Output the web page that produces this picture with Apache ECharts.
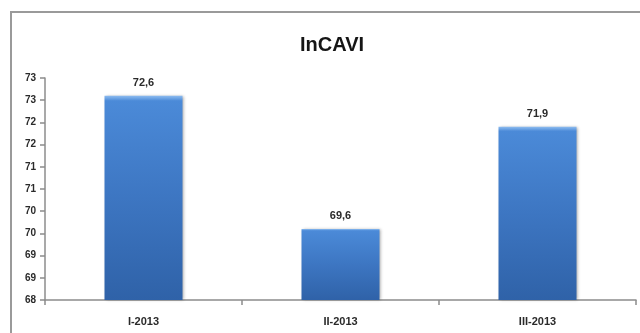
<!DOCTYPE html>
<html>
<head>
<meta charset="utf-8">
<script src="https://cdn.jsdelivr.net/npm/echarts@6/dist/echarts.min.js"></script>
<style>
  html, body { margin: 0; padding: 0; background: #fff; }
  #chart { width: 640px; height: 333px; }
</style>
</head>
<body>
<div id="chart"></div>
<script>
// Quarterly InCAVI index values
const categories = ['I-2013', 'II-2013', 'III-2013'];
const values = [72.6, 69.6, 71.9];
const titleText = 'InCAVI';
const yMin = 68;
const yMax = 73;
const yStep = 0.5;

const chart = echarts.init(document.getElementById('chart'), null, { renderer: 'canvas' });

const textColor = '#2a2a2a';
const axisColor = '#8c8c8c';
const fontFamily = '"Liberation Sans", Arial, sans-serif';

const barGradient = new echarts.graphic.LinearGradient(0, 0, 0, 1, [
  { offset: 0, color: '#8dbcf0' },
  { offset: 0.025, color: '#4b8ad8' },
  { offset: 0.5, color: '#3d76c2' },
  { offset: 1, color: '#2f62a8' }
]);

chart.setOption({
  animation: false,
  backgroundColor: '#ffffff',
  title: {
    text: titleText,
    left: 295,
    top: 30,
    textStyle: { fontFamily: fontFamily, fontSize: 20, fontWeight: 'bold', color: '#151515' }
  },
  graphic: [{
    type: 'rect',
    shape: { x: 11, y: 12, width: 700, height: 400 },
    style: { fill: 'none', stroke: '#9a9a9a', lineWidth: 2 },
    silent: true,
    z: -10
  }],
  grid: { left: 45, right: 4, top: 78, bottom: 33 },
  xAxis: {
    type: 'category',
    data: categories,
    axisLine: { lineStyle: { color: axisColor, width: 1.5 } },
    axisTick: { show: true, length: 5, lineStyle: { color: axisColor, width: 1.5 } },
    axisLabel: { color: textColor, fontFamily: fontFamily, fontSize: 11, fontWeight: 'bold', margin: 16 }
  },
  yAxis: {
    type: 'value',
    min: yMin,
    max: yMax,
    interval: yStep,
    splitLine: { show: false },
    axisLine: { show: true, lineStyle: { color: axisColor, width: 1.5 } },
    axisTick: { show: true, length: 5, lineStyle: { color: axisColor, width: 1.5 } },
    axisLabel: {
      color: textColor,
      fontFamily: fontFamily,
      fontSize: 10,
      fontWeight: 'bold',
      margin: 9,
      formatter: v => String(Math.round(v))
    }
  },
  series: [{
    type: 'bar',
    data: values,
    barWidth: 78,
    itemStyle: {
      color: barGradient,
      shadowColor: 'rgba(0,0,0,0.35)',
      shadowBlur: 3,
      shadowOffsetX: 1,
      shadowOffsetY: 0
    },
    label: {
      show: true,
      position: 'top',
      distance: 7,
      color: textColor,
      fontFamily: fontFamily,
      fontSize: 11,
      fontWeight: 'bold',
      formatter: p => String(p.value).replace('.', ',')
    }
  }]
});
</script>
</body>
</html>
